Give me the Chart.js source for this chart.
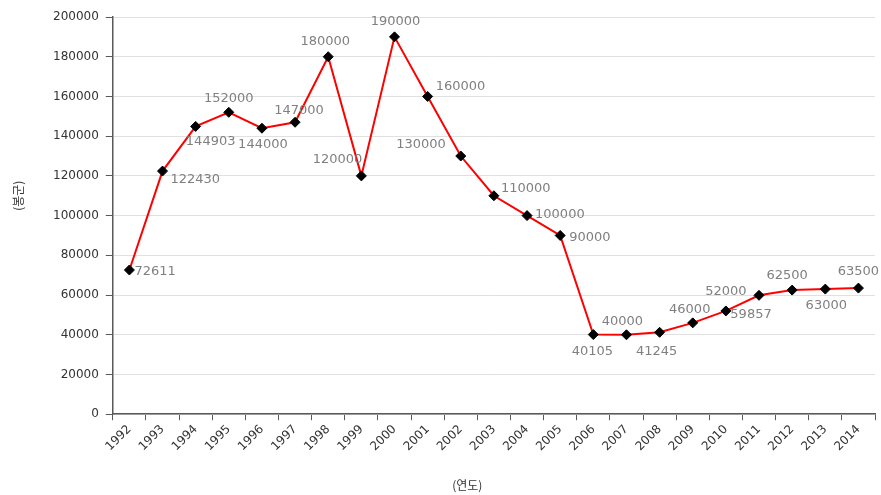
<!DOCTYPE html>
<html>
<head>
<meta charset="utf-8">
<script src="https://cdn.jsdelivr.net/npm/chart.js@4"></script>
<style>
  body { margin: 0; background: #fff; }
  #wrap { width: 881px; height: 495px; }
</style>
</head>
<body>
<div id="wrap"><canvas id="colonies" width="881" height="495"></canvas></div>
<script>
const years = ['1992','1993','1994','1995','1996','1997','1998','1999','2000','2001','2002',
  '2003','2004','2005','2006','2007','2008','2009','2010','2011','2012','2013','2014'];

const colonies = [72611,122430,144903,152000,144000,147000,180000,120000,190000,160000,130000,
  110000,100000,90000,40105,40000,41245,46000,52000,59857,62500,63000,63500];

const yTicks = [0,20000,40000,60000,80000,100000,120000,140000,160000,180000,200000];

const xTitle = '(연도)';
const yTitle = '(봉군)';

// where each value label sits, relative to its marker: [dx, dy, align]
const labelPlace = [
  [5,2,'left'], [8,9,'left'], [15,15,'center'], [0,-14,'center'], [1,16,'center'],
  [4,-12,'center'], [-3,-15,'center'], [1,-16,'right'], [1,-15,'center'], [8,-10,'left'],
  [-15,-11,'right'], [7,-7,'left'], [8,-1,'left'], [9,2,'left'], [-1,17,'center'],
  [-4,-13,'center'], [-3,19,'center'], [-3,-13,'center'], [0,-19,'center'], [-8,19,'center'],
  [-5,-14,'center'], [1,17,'center'], [0,-16,'center']
];

const valueLabels = {
  id: 'valueLabels',
  afterDatasetsDraw(chart) {
    const ctx = chart.ctx;
    const meta = chart.getDatasetMeta(0);
    ctx.save();
    ctx.font = '13px "DejaVu Sans"';
    ctx.fillStyle = '#808080';
    ctx.textBaseline = 'middle';
    meta.data.forEach((pt, i) => {
      const p = labelPlace[i];
      ctx.textAlign = p[2];
      ctx.fillText(String(colonies[i]), pt.x + p[0], pt.y + p[1]);
    });
    ctx.restore();
  }
};

// axis titles sit a little off-centre, so they are drawn here instead of by the scales
const axisTitles = {
  id: 'axisTitles',
  afterDraw(chart) {
    const ctx = chart.ctx;
    const area = chart.chartArea;
    ctx.save();
    ctx.font = '12px "Noto Sans CJK KR"';
    ctx.fillStyle = '#333';
    ctx.textAlign = 'center';
    ctx.textBaseline = 'middle';
    ctx.fillText(xTitle, area.left + (area.right - area.left) * 0.465, chart.height - 10);
    ctx.translate(18, area.top + (area.bottom - area.top) * 0.45);
    ctx.rotate(-Math.PI / 2);
    ctx.fillText(yTitle, 0, 0);
    ctx.restore();
  }
};

const axisFont = { family: 'DejaVu Sans', size: 12 };

new Chart('colonies', {
  type: 'line',
  data: {
    labels: years,
    datasets: [{
      data: colonies,
      borderColor: '#ff0000',
      borderWidth: 2,
      pointStyle: 'rectRot',
      pointRadius: 5,
      pointBackgroundColor: '#000',
      pointBorderColor: '#000',
      pointBorderWidth: 1,
      tension: 0,
      fill: false
    }]
  },
  options: {
    responsive: false,
    animation: false,
    layout: { padding: { left: 46, right: 6, top: 17, bottom: 39 } },
    plugins: {
      legend: { display: false },
      tooltip: { enabled: false }
    },
    scales: {
      x: {
        offset: true,
        grid: {
          offset: true,
          drawOnChartArea: false,
          drawTicks: true,
          tickLength: 6,
          color: '#595959'
        },
        border: { display: true, color: '#595959', width: 1.5 },
        ticks: {
          minRotation: 45,
          maxRotation: 45,
          autoSkip: false,
          color: '#333',
          font: axisFont,
          padding: 2
        }
      },
      y: {
        min: 0,
        max: 200000,
        afterBuildTicks(axis) { axis.ticks = yTicks.map(v => ({ value: v })); },
        grid: {
          color: '#e0e0e0',
          tickColor: '#595959',
          tickLength: 7,
          lineWidth: 1
        },
        border: { display: true, color: '#595959', width: 1.5 },
        ticks: {
          color: '#333',
          font: axisFont,
          padding: 7,
          callback: v => String(v)
        }
      }
    }
  },
  plugins: [valueLabels, axisTitles]
});
</script>
</body>
</html>
